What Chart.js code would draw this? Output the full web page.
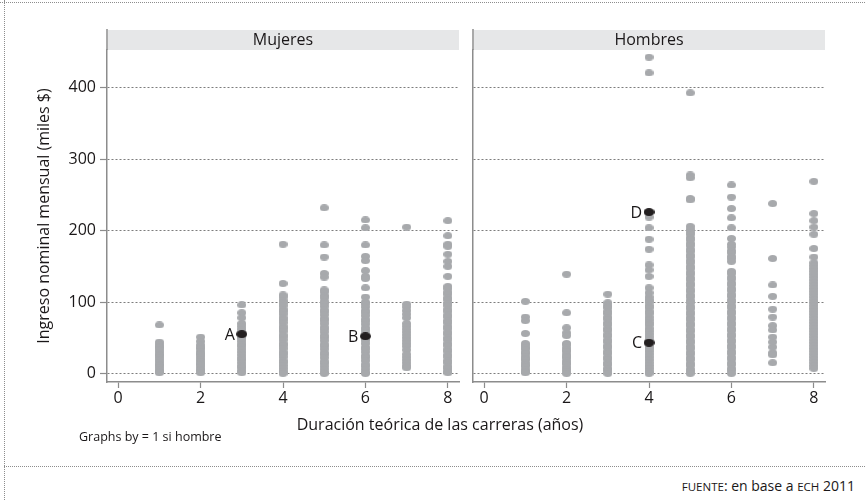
<!DOCTYPE html>
<html>
<head>
<meta charset="utf-8">
<script src="https://cdn.jsdelivr.net/npm/chart.js@4/dist/chart.umd.min.js"></script>
<style>
  html, body { margin: 0; padding: 0; background: #fff; }
  body { width: 865px; height: 500px; position: relative; overflow: hidden;
         font-family: "Open Sans", sans-serif; color: #1a1718; }
  .dot-top  { position: absolute; left: 0; top: 2px; width: 865px; border-top: 1px dotted #8d8d8d; }
  .dot-left { position: absolute; left: 4px; top: 0; height: 500px; border-left: 1px dotted #8d8d8d; }
  .dot-sep  { position: absolute; left: 4px; top: 466px; width: 861px; border-top: 1px dotted #8d8d8d; }
  #panelM { position: absolute; left: 0; top: 0; }
  #panelH { position: absolute; left: 430px; top: 0; }
  .xtitle { position: absolute; left: 240px; width: 400px; top: 413px; text-align: center; font-size: 16px; line-height: 22px; }
  .byline { position: absolute; left: 79px; top: 428px; font-size: 12.5px; line-height: 18px; }
  .fuente { position: absolute; right: 10px; top: 477px; font-size: 14px; line-height: 18px; }
  .sc { font-size: 11.5px; }
</style>
</head>
<body>
<div class="dot-top"></div>
<div class="dot-left"></div>
<div class="dot-sep"></div>
<canvas id="panelM" width="470" height="420"></canvas>
<canvas id="panelH" width="435" height="420"></canvas>
<div class="xtitle">Duración teórica de las carreras (años)</div>
<div class="byline">Graphs by = 1 si hombre</div>
<div class="fuente"><span class="sc">FUENTE</span>: en base a <span class="sc">ECH</span> 2011</div>

<script>
// Duración teórica (años) de cada columna de puntos
const duraciones = [1, 2, 3, 4, 5, 6, 7, 8];

// Ingreso nominal mensual (miles $) por duración — mujeres
const ingresosMujeres = [
  [68, 44, 41, 38, 36, 33, 30, 27, 25, 22, 19, 16, 13, 11, 8, 5, 3, 1],
  [51, 45, 40, 37, 35, 31, 28, 26, 23, 20, 17, 14, 12, 9, 6, 4, 1],
  [96, 85, 78, 70, 66, 62, 58, 52, 49, 45, 41, 38, 34, 30, 26, 22, 19, 15, 11, 8, 4, 1],
  [181, 126, 110, 107, 102, 99, 95, 90, 87, 83, 78, 75, 71, 66, 63, 59, 54, 51, 47, 42, 39, 35, 30, 27, 23, 18, 15, 11, 7, 3, 0],
  [232, 180, 163, 140, 135, 117, 114, 109, 106, 101, 98, 94, 89, 86, 82, 77, 74, 70, 65, 62, 58, 53, 50, 46, 41, 38, 34, 29, 26, 22, 17, 14, 10, 6, 2, 0],
  [215, 204, 180, 164, 158, 144, 136, 133, 120, 107, 100, 97, 93, 88, 85, 81, 76, 73, 69, 64, 61, 57, 49, 46, 42, 37, 34, 30, 25, 22, 18, 13, 10, 6, 2, 0],
  [205, 97, 93, 88, 83, 78, 70, 66, 62, 58, 54, 50, 46, 42, 38, 33, 27, 23, 19, 15, 11, 8],
  [214, 193, 181, 178, 167, 157, 150, 136, 122, 119, 114, 111, 106, 103, 98, 95, 90, 87, 82, 79, 74, 71, 66, 63, 58, 55, 50, 47, 42, 39, 34, 31, 26, 23, 18, 15, 10, 7, 3, 1]
];

// Ingreso nominal mensual (miles $) por duración — hombres
const ingresosHombres = [
  [101, 79, 74, 56, 42, 39, 36, 34, 30, 28, 24, 21, 19, 15, 12, 10, 6, 3, 1],
  [139, 85, 64, 57, 53, 42, 40, 36, 33, 31, 27, 24, 22, 18, 15, 13, 9, 6, 3, 0],
  [111, 99, 95, 92, 87, 84, 79, 76, 71, 68, 63, 60, 55, 52, 47, 44, 39, 36, 31, 28, 23, 20, 15, 12, 7, 4, 0],
  [443, 421, 219, 204, 188, 174, 152, 145, 136, 120, 113, 107, 103, 100, 95, 92, 87, 84, 79, 75, 71, 68, 63, 59, 55, 51, 47, 38, 35, 31, 27, 23, 19, 15, 11, 7, 3, 0],
  [393, 278, 274, 245, 243, 206, 202, 198, 195, 190, 187, 182, 179, 174, 171, 166, 163, 158, 155, 150, 147, 142, 139, 134, 131, 126, 123, 118, 115, 110, 107, 102, 99, 94, 91, 86, 83, 78, 75, 70, 67, 62, 59, 54, 51, 46, 43, 38, 35, 30, 27, 22, 19, 14, 11, 6, 3, 0],
  [264, 247, 231, 218, 204, 189, 181, 177, 172, 169, 164, 161, 157, 143, 140, 135, 132, 127, 124, 119, 116, 111, 108, 103, 100, 95, 92, 87, 84, 79, 76, 71, 68, 63, 60, 55, 52, 47, 44, 39, 36, 31, 28, 23, 20, 15, 12, 7, 4, 0],
  [238, 161, 124, 108, 90, 79, 67, 61, 51, 44, 37, 29, 26, 15],
  [269, 224, 214, 205, 195, 175, 163, 155, 151, 147, 143, 139, 135, 131, 127, 123, 119, 115, 111, 107, 103, 99, 95, 91, 87, 83, 79, 75, 71, 67, 63, 59, 55, 51, 47, 43, 39, 35, 31, 27, 23, 19, 15, 11, 7]
];

// Casos señalados con letra
const marcaLetras   = ['A', 'B', 'C', 'D'];
const marcaPanel    = ['Mujeres', 'Mujeres', 'Hombres', 'Hombres'];
const marcaDuracion = [3, 6, 4, 4];
const marcaIngreso  = [55, 52, 43, 226];

// Ejes
const xTicks = [0, 2, 4, 6, 8];
const yTicks = [0, 100, 200, 300, 400];

const FONT = '"Open Sans", sans-serif';
const INK = '#1a1718';
const AXIS = '#8c8c8c';
const GRID = '#7d7d7d';
const DOT = '#a7a9ac';

// Puntos elípticos (más anchos que altos)
function ellipseSprite(w, h, color) {
  const c = document.createElement('canvas');
  c.width = w; c.height = h;
  const g = c.getContext('2d');
  g.fillStyle = color;
  g.beginPath();
  g.ellipse(w / 2, h / 2, w / 2, h / 2, 0, 0, Math.PI * 2);
  g.fill();
  return c;
}
const grayDot = ellipseSprite(9, 7, DOT);
const blackDot = ellipseSprite(11, 8, '#231f20');

function toPoints(series) {
  const pts = [];
  series.forEach((vals, i) => vals.forEach(v => pts.push({ x: duraciones[i], y: v })));
  return pts;
}
function highlighted(panel) {
  const pts = [];
  marcaLetras.forEach((l, i) => {
    if (marcaPanel[i] === panel) pts.push({ x: marcaDuracion[i], y: marcaIngreso[i], letra: l });
  });
  return pts;
}

// Banda gris con el nombre del panel + letras junto a los casos señalados
const panelDecor = {
  id: 'panelDecor',
  afterDraw(chart, args, opts) {
    const { ctx, chartArea: a } = chart;
    ctx.save();
    ctx.fillStyle = '#e6e7e8';
    ctx.fillRect(a.left + 1, a.top - 20, a.right - a.left - 1, 20);
    ctx.strokeStyle = AXIS;
    ctx.lineWidth = 1.5;
    ctx.beginPath();
    ctx.moveTo(a.left, a.top - 21);
    ctx.lineTo(a.left, a.top);
    ctx.stroke();
    ctx.fillStyle = INK;
    ctx.font = '16px ' + FONT;
    ctx.textAlign = 'center';
    ctx.textBaseline = 'middle';
    ctx.fillText(opts.text, (a.left + a.right) / 2, a.top - 10);

    const meta = chart.getDatasetMeta(1);
    const data = chart.data.datasets[1].data;
    ctx.font = '16px ' + FONT;
    ctx.textAlign = 'right';
    meta.data.forEach((el, i) => {
      ctx.fillText(data[i].letra, el.x - 7, el.y + 1);
    });
    ctx.restore();
  }
};

function makePanel(canvasId, panel, series, isFirst) {
  const padLeft = isFirst ? 35 : 0;
  const padRight = isFirst ? 11 : 40;
  const axisLeft = isFirst ? 107 : 43;
  return new Chart(document.getElementById(canvasId), {
    type: 'scatter',
    data: {
      datasets: [
        { data: toPoints(series), pointStyle: grayDot, pointRadius: 4, pointHoverRadius: 4, order: 2 },
        { data: highlighted(panel), pointStyle: blackDot, pointRadius: 5, pointHoverRadius: 5, order: 1 }
      ]
    },
    options: {
      responsive: false,
      animation: false,
      events: [],
      layout: { padding: { left: padLeft, right: padRight, top: 50, bottom: 0 } },
      plugins: {
        legend: { display: false },
        tooltip: { enabled: false },
        panelDecor: { text: panel }
      },
      scales: {
        x: {
          type: 'linear',
          min: -0.27, max: 8.27,
          afterBuildTicks: s => { s.ticks = xTicks.map(v => ({ value: v })); },
          afterFit: s => { s.height = 420 - 382; },
          grid: { drawOnChartArea: false, drawTicks: true, tickLength: 6, tickColor: AXIS, tickWidth: 1.2 },
          border: { display: true, color: AXIS, width: 1.5 },
          ticks: { color: INK, font: { family: FONT, size: 16 }, padding: 1, maxRotation: 0, autoSkip: false }
        },
        y: {
          type: 'linear',
          min: -12, max: 453,
          afterBuildTicks: s => { s.ticks = yTicks.map(v => ({ value: v })); },
          afterFit: s => { s.width = axisLeft - padLeft; },
          grid: { color: GRID, lineWidth: 1, drawTicks: isFirst, tickLength: 7, tickColor: AXIS, tickWidth: 1.2 },
          border: { display: true, color: AXIS, width: 1.5, dash: [2, 2] },
          ticks: { display: isFirst, color: INK, font: { family: FONT, size: 16 }, padding: 4 },
          title: {
            display: isFirst,
            text: 'Ingreso nominal mensual (miles $)',
            color: INK,
            font: { family: FONT, size: 16 },
            padding: { top: 0, bottom: 0 }
          }
        }
      }
    },
    plugins: [panelDecor]
  });
}

makePanel('panelM', 'Mujeres', ingresosMujeres, true);
makePanel('panelH', 'Hombres', ingresosHombres, false);
</script>
</body>
</html>
